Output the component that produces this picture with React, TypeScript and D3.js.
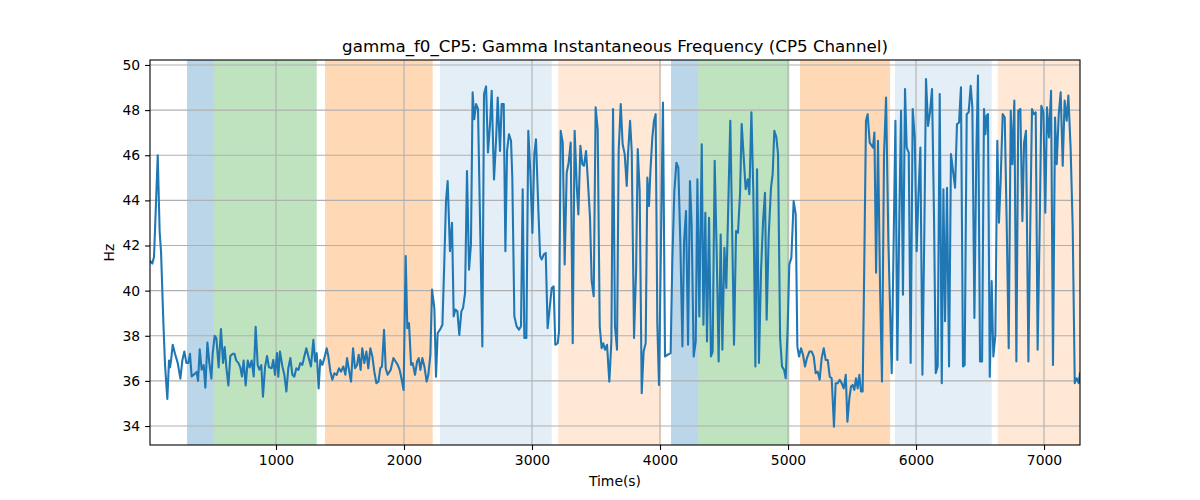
import * as d3 from 'd3';
import { useEffect, useRef } from 'react';

const title = 'gamma_f0_CP5: Gamma Instantaneous Frequency (CP5 Channel)';

// shaded segments: start, end, colour, opacity
const spanStarts = [305, 516, 1383, 2281, 3205, 4086, 4299, 5094, 5836, 6638];
const spanEnds = [516, 1318, 2224, 3154, 4008, 4299, 5010, 5797, 6591, 7281];
const spanColors = ['#1f77b4', '#2ca02c', '#ff7f0e', '#1f77b4', '#ff7f0e', '#1f77b4', '#2ca02c', '#ff7f0e', '#1f77b4', '#ff7f0e'];
const spanAlphas = [0.3, 0.3, 0.3, 0.12, 0.17, 0.3, 0.3, 0.3, 0.12, 0.17];

const xTicks = [1000, 2000, 3000, 4000, 5000, 6000, 7000];
const yTicks = [34, 36, 38, 40, 42, 44, 46, 48, 50];

const times = [
  16, 34, 47, 60, 76, 91, 102, 120, 133, 151, 164, 172, 180, 193, 211, 232, 253, 268, 284, 300,
  315, 328, 341, 362, 380, 391, 404, 419, 435, 448, 464, 479, 495, 505, 521, 534, 552, 570, 586, 599,
  612, 628, 643, 662, 675, 690, 706, 721, 734, 747, 763, 779, 794, 810, 826, 841, 857, 870, 885, 898,
  914, 930, 945, 966, 979, 992, 1008, 1018, 1031, 1050, 1065, 1081, 1096, 1112, 1128, 1143, 1159, 1175, 1190, 1206,
  1221, 1237, 1253, 1273, 1292, 1305, 1318, 1333, 1346, 1362, 1378, 1396, 1409, 1425, 1440, 1456, 1474, 1492, 1508, 1526,
  1542, 1555, 1570, 1586, 1602, 1617, 1633, 1646, 1661, 1674, 1690, 1706, 1721, 1737, 1753, 1768, 1784, 1800, 1815, 1828,
  1844, 1857, 1872, 1896, 1917, 1935, 1951, 1966, 1982, 1997, 2013, 2026, 2039, 2055, 2068, 2086, 2102, 2115, 2128, 2143,
  2159, 2177, 2190, 2206, 2219, 2237, 2250, 2263, 2281, 2300, 2315, 2328, 2341, 2359, 2375, 2388, 2401, 2417, 2432, 2448,
  2461, 2477, 2492, 2508, 2523, 2536, 2549, 2563, 2578, 2612, 2625, 2641, 2656, 2672, 2685, 2703, 2719, 2732, 2750, 2763,
  2779, 2792, 2805, 2820, 2836, 2846, 2862, 2880, 2898, 2914, 2927, 2940, 2956, 2971, 2987, 3003, 3018, 3031, 3050, 3063,
  3076, 3091, 3107, 3122, 3138, 3154, 3169, 3182, 3201, 3211, 3224, 3240, 3255, 3271, 3286, 3302, 3318, 3333, 3349, 3362,
  3378, 3393, 3406, 3422, 3435, 3453, 3466, 3482, 3497, 3513, 3529, 3544, 3557, 3570, 3586, 3604, 3620, 3633, 3648, 3664,
  3677, 3693, 3708, 3724, 3740, 3750, 3766, 3779, 3797, 3813, 3826, 3841, 3857, 3872, 3888, 3901, 3914, 3925, 3940, 3953,
  3966, 3979, 3992, 4008, 4023, 4039, 4060, 4083, 4096, 4112, 4128, 4143, 4159, 4175, 4188, 4203, 4219, 4234, 4247, 4263,
  4279, 4292, 4307, 4326, 4339, 4354, 4367, 4383, 4398, 4411, 4427, 4443, 4458, 4474, 4487, 4503, 4518, 4534, 4549, 4565,
  4578, 4594, 4609, 4625, 4638, 4654, 4669, 4685, 4698, 4714, 4729, 4745, 4758, 4773, 4789, 4805, 4820, 4833, 4849, 4867,
  4880, 4893, 4909, 4922, 4938, 4953, 4969, 4982, 4997, 5010, 5026, 5044, 5060, 5073, 5086, 5102, 5117, 5133, 5148, 5167,
  5185, 5201, 5216, 5232, 5247, 5263, 5279, 5294, 5310, 5326, 5341, 5359, 5372, 5388, 5404, 5419, 5435, 5451, 5464, 5479,
  5492, 5505, 5518, 5531, 5544, 5557, 5570, 5583, 5596, 5609, 5622, 5638, 5654, 5664, 5675, 5688, 5703, 5719, 5734, 5750,
  5766, 5784, 5810, 5839, 5854, 5870, 5883, 5898, 5914, 5927, 5943, 5958, 5974, 5990, 6005, 6018, 6034, 6050, 6065, 6078,
  6094, 6109, 6125, 6141, 6154, 6169, 6185, 6201, 6214, 6227, 6242, 6258, 6273, 6289, 6305, 6320, 6336, 6351, 6367, 6380,
  6396, 6411, 6427, 6440, 6456, 6471, 6484, 6500, 6516, 6531, 6542, 6552, 6562, 6576, 6591, 6604, 6620, 6635, 6648, 6661,
  6677, 6693, 6708, 6724, 6740, 6753, 6768, 6784, 6799, 6815, 6831, 6844, 6859, 6878, 6893, 6906, 6919, 6935, 6950, 6966,
  6979, 6995, 7010, 7023, 7039, 7055, 7070, 7086, 7099, 7115, 7130, 7146, 7161, 7177, 7190, 7208, 7224, 7240, 7255, 7271,
  7281,
];

const hz = [
  41.3, 41.2, 41.5, 43.5, 46.0, 42.6, 41.7, 38.6, 36.7, 35.2, 36.9, 36.6, 36.9, 37.6, 37.2, 36.8, 36.1, 36.9, 37.3, 36.8,
  36.8, 37.2, 36.2, 36.3, 36.4, 36.0, 37.4, 36.5, 36.7, 35.7, 37.7, 36.8, 36.1, 37.2, 38.0, 37.9, 36.6, 38.3, 36.8, 37.5,
  36.6, 35.8, 37.1, 37.2, 37.2, 36.9, 36.8, 36.6, 36.2, 36.9, 35.8, 36.9, 36.6, 36.9, 36.2, 38.4, 36.7, 36.5, 36.7, 35.3,
  36.6, 37.1, 36.6, 36.56, 36.93, 36.27, 37.23, 36.19, 37.3, 36.64, 36.27, 35.53, 36.56, 37.01, 36.27, 36.19, 36.56, 36.49, 36.79, 36.71,
  37.08, 37.45, 37.08, 36.64, 37.82, 36.86, 37.23, 35.67, 36.93, 36.71, 37.01, 37.45, 37.08, 36.41, 36.05, 36.34, 36.27, 36.56, 36.41, 36.64,
  36.27, 37.01, 36.49, 35.97, 37.45, 36.56, 36.71, 37.16, 36.49, 37.45, 36.79, 37.3, 36.56, 37.45, 37.08, 36.41, 35.9, 35.97, 36.56, 36.64,
  38.27, 36.56, 36.27, 36.49, 37.01, 36.86, 36.71, 36.49, 36.05, 35.6, 41.53, 38.34, 38.56, 36.71, 36.79, 36.27, 36.86, 37.01, 36.49, 37.01,
  36.64, 35.97, 36.27, 37.16, 40.05, 39.23, 36.19, 38.12, 38.27, 38.49, 41.3, 43.97, 44.86, 41.75, 43.01, 38.86, 39.16, 39.08, 38.04, 39.08,
  39.23, 39.9, 45.3, 40.93, 42.05, 48.79, 47.6, 48.27, 48.05, 37.53, 48.71, 49.05, 46.12, 47.38, 48.86, 44.93, 46.64, 48.56, 46.19, 48.27,
  48.27, 41.75, 46.19, 46.93, 46.64, 45.01, 38.86, 38.42, 38.27, 38.42, 44.49, 37.9, 37.9, 47.08, 45.23, 42.56, 46.05, 46.71, 43.53, 41.53,
  41.38, 41.6, 41.67, 38.34, 39.23, 40.12, 40.19, 37.6, 37.67, 38.19, 47.08, 46.56, 41.16, 45.23, 45.67, 46.56, 37.67, 47.08, 44.71, 43.38,
  46.42, 45.6, 45.53, 46.19, 45.01, 43.23, 40.42, 39.75, 48.12, 47.16, 38.42, 37.45, 37.67, 37.38, 37.6, 35.97, 37.75, 48.05, 38.42, 37.38,
  46.19, 48.27, 46.49, 46.05, 44.64, 46.05, 47.53, 46.19, 37.9, 40.86, 46.27, 44.42, 35.45, 37.3, 37.67, 45.01, 43.75, 45.3, 46.79, 47.53,
  47.82, 38.49, 35.82, 42.34, 48.34, 37.08, 37.16, 37.23, 41.3, 44.42, 45.67, 45.45, 42.05, 37.53, 42.19, 43.53, 37.6, 44.86, 42.93, 37.08,
  37.75, 44.93, 38.86, 46.49, 38.49, 43.45, 37.75, 43.23, 37.08, 37.3, 45.75, 41.6, 36.86, 42.49, 37.38, 41.9, 40.12, 43.97, 47.53, 42.19,
  37.6, 42.64, 42.56, 44.27, 47.38, 45.9, 44.49, 44.93, 44.27, 47.9, 44.34, 36.64, 45.38, 36.79, 40.86, 43.08, 44.34, 38.71, 42.42, 44.56,
  45.16, 47.08, 46.79, 46.05, 37.9, 36.64, 36.49, 36.12, 38.34, 41.16, 41.45, 43.97, 43.38, 37.53, 37.08, 37.45, 37.16, 36.64, 37.01, 37.3,
  37.3, 37.08, 36.34, 36.41, 36.05, 37.01, 37.45, 36.93, 36.93, 36.19, 36.12, 33.97, 35.9, 35.9, 36.05, 35.9, 35.67, 36.27, 34.19, 35.23,
  35.75, 35.82, 35.6, 36.12, 35.67, 36.27, 35.53, 35.53, 41.3, 47.53, 47.82, 46.56, 46.42, 46.34, 47.01, 40.79, 46.64, 40.12, 35.97, 46.05,
  48.56, 42.19, 36.34, 47.53, 36.93, 43.38, 47.97, 39.82, 48.93, 46.34, 46.12, 36.79, 48.05, 46.79, 41.75, 44.12, 46.34, 36.27, 42.64, 49.38,
  47.3, 47.9, 48.93, 43.08, 36.34, 36.64, 48.71, 35.9, 44.49, 38.64, 44.56, 36.64, 46.05, 45.3, 44.56, 47.38, 47.45, 49.01, 36.64, 36.71,
  47.82, 47.9, 49.08, 48.12, 38.79, 46.05, 49.53, 36.86, 36.86, 48.05, 46.93, 47.75, 47.82, 36.19, 40.42, 37.08, 38.04, 46.64, 43.01, 44.86,
  47.82, 47.67, 43.08, 37.45, 47.97, 45.6, 48.42, 36.86, 47.97, 48.05, 43.08, 46.56, 47.08, 36.86, 43.08, 48.05, 47.82, 47.9, 37.38, 42.79,
  48.19, 47.9, 43.45, 48.12, 46.79, 48.86, 36.71, 47.67, 45.6, 47.82, 48.79, 45.53, 48.42, 47.53, 48.64, 46.27, 42.79, 35.9, 36.12, 35.9,
  36.34,
];

const W = 1200;
const H = 500;
const margin = { left: 150, right: 120, top: 60, bottom: 55 };
const font = "'DejaVu Sans', sans-serif";

function App() {
  const svgElement = useRef<SVGSVGElement | null>(null);

  useEffect(() => {
    if (!svgElement.current) return;
    const svg = d3.select(svgElement.current);
    svg.selectAll('*').remove();

    const x = d3.scaleLinear().domain([15.6, 7281]).range([margin.left, W - margin.right]);
    const y = d3.scaleLinear().domain([33.16, 50.22]).range([H - margin.bottom, margin.top]);

    svg.append('rect').attr('width', W).attr('height', H).attr('fill', '#fff');

    const plot = svg.append('g');

    // spans
    plot
      .selectAll('.span')
      .data(spanStarts.map((s, i) => ({ s, e: spanEnds[i], c: spanColors[i], a: spanAlphas[i] })))
      .join('rect')
      .attr('class', 'span')
      .attr('x', (d) => x(d.s))
      .attr('width', (d) => x(d.e) - x(d.s))
      .attr('y', margin.top)
      .attr('height', H - margin.bottom - margin.top)
      .attr('fill', (d) => d.c)
      .attr('fill-opacity', (d) => d.a);

    // grid
    plot
      .selectAll('.gx')
      .data(xTicks)
      .join('line')
      .attr('x1', (d) => x(d))
      .attr('x2', (d) => x(d))
      .attr('y1', margin.top)
      .attr('y2', H - margin.bottom)
      .attr('stroke', '#b0b0b0')
      .attr('stroke-width', 1.1);
    plot
      .selectAll('.gy')
      .data(yTicks)
      .join('line')
      .attr('x1', margin.left)
      .attr('x2', W - margin.right)
      .attr('y1', (d) => y(d))
      .attr('y2', (d) => y(d))
      .attr('stroke', '#b0b0b0')
      .attr('stroke-width', 1.1);

    // line
    const line = d3
      .line<number>()
      .x((d, i) => x(times[i]))
      .y((d) => y(d));
    svg
      .append('defs')
      .append('clipPath')
      .attr('id', 'clip')
      .append('rect')
      .attr('x', margin.left)
      .attr('y', margin.top)
      .attr('width', W - margin.left - margin.right)
      .attr('height', H - margin.top - margin.bottom);
    plot
      .append('path')
      .attr('d', line(hz) as string)
      .attr('fill', 'none')
      .attr('stroke', '#1f77b4')
      .attr('stroke-width', 2.08)
      .attr('stroke-linejoin', 'round')
      .attr('stroke-linecap', 'square')
      .attr('clip-path', 'url(#clip)');

    // axes
    const xAxis = svg
      .append('g')
      .attr('transform', `translate(0,${H - margin.bottom})`)
      .call(d3.axisBottom(x).tickValues(xTicks).tickSize(4.9).tickPadding(4.9).tickFormat(d3.format('d')));
    const yAxis = svg
      .append('g')
      .attr('transform', `translate(${margin.left},0)`)
      .call(d3.axisLeft(y).tickValues(yTicks).tickSize(4.9).tickPadding(4.9));
    [xAxis, yAxis].forEach((a) => {
      a.select('.domain').remove();
      a.selectAll('line').attr('stroke', '#000').attr('stroke-width', 1.1);
      a.selectAll('text').attr('font-family', font).attr('font-size', 13.9).attr('fill', '#000');
    });

    // frame
    svg
      .append('rect')
      .attr('x', margin.left)
      .attr('y', margin.top)
      .attr('width', W - margin.left - margin.right)
      .attr('height', H - margin.top - margin.bottom)
      .attr('fill', 'none')
      .attr('stroke', '#000')
      .attr('stroke-width', 1.1);

    svg
      .append('text')
      .attr('x', (margin.left + W - margin.right) / 2)
      .attr('y', margin.top - 8)
      .attr('text-anchor', 'middle')
      .attr('font-family', font)
      .attr('font-size', 16.7)
      .text(title);

    svg
      .append('text')
      .attr('x', (margin.left + W - margin.right) / 2)
      .attr('y', H - 14)
      .attr('text-anchor', 'middle')
      .attr('font-family', font)
      .attr('font-size', 13.9)
      .text('Time(s)');

    svg
      .append('text')
      .attr('transform', `translate(114,${(margin.top + H - margin.bottom) / 2}) rotate(-90)`)
      .attr('text-anchor', 'middle')
      .attr('font-family', font)
      .attr('font-size', 13.9)
      .text('Hz');
  }, []);

  return (
    <svg
      ref={svgElement}
      width={W}
      height={H}
      style={{ position: 'absolute', left: 0, top: 0 }}
    />
  );
}

export default App;
